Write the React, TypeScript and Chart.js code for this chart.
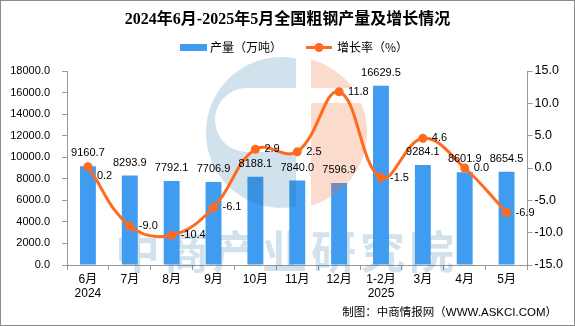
import { useEffect, useRef } from "react";
import { Chart, registerables } from "chart.js";

Chart.register(...registerables);

const TITLE = "2024年6月-2025年5月全国粗钢产量及增长情况";
const SERIES_BAR = "产量（万吨）";
const SERIES_LINE = "增长率（%）";
const SOURCE = "制图：中商情报网（WWW.ASKCI.COM）";
const WATERMARK = "中商产业研究院";

const categories: (string | string[])[] = [
  ["6月", "2024"], "7月", "8月", "9月", "10月", "11月", "12月",
  ["1-2月", "2025"], "3月", "4月", "5月",
];
const output = [9160.7, 8293.9, 7792.1, 7706.9, 8188.1, 7840.0, 7596.9, 16629.5, 9284.1, 8601.9, 8654.5];
const growth = [0.2, -9.0, -10.4, -6.1, 2.9, 2.5, 11.8, -1.5, 4.6, 0.0, -6.9];

const leftMin = 0, leftMax = 18000, leftStep = 2000;
const rightMin = -15, rightMax = 15, rightStep = 5;

const BAR_COLOR = "#3F9CF1";
const LINE_COLOR = "#FF6A1F";
const AXIS_COLOR = "#999999";
const SANS = "'Liberation Sans', 'Noto Sans CJK SC', sans-serif";
const CJK = "'Noto Sans CJK SC', sans-serif";
const TITLE_FONT = "'Liberation Serif', 'Noto Sans CJK SC', serif";

const decorPlugin = {
  id: "decor",
  beforeDatasetsDraw(chart: any) {
    const ctx = chart.ctx;
    ctx.save();
    ctx.fillStyle = "rgba(30,110,160,0.2)";
    ctx.font = `bold 45px ${CJK}`;
    ctx.textBaseline = "middle";
    ctx.textAlign = "left";
    Array.from(WATERMARK).forEach((c, i) => ctx.fillText(c, 115 + i * 49, 252));
    ctx.restore();
  },
  afterDatasetDraw(chart: any, args: any) {
    if (args.index !== 0) return;
    const ctx = chart.ctx;
    // blue part of logo
    ctx.save();
    ctx.beginPath();
    ctx.rect(0, 0, 296, 326);
    ctx.clip();
    ctx.beginPath();
    ctx.arc(281.5, 132.5, 75.5, 0, Math.PI * 2);
    ctx.moveTo(300, 88);
    ctx.lineTo(247, 88);
    ctx.arc(247, 120, 32, -Math.PI / 2, Math.PI / 2, true);
    ctx.lineTo(300, 152);
    ctx.closePath();
    ctx.fillStyle = "rgba(30,110,160,0.2)";
    ctx.fill("evenodd");
    ctx.restore();
    // salmon part of logo
    ctx.save();
    ctx.beginPath();
    ctx.rect(311, 0, 264, 88);
    ctx.rect(311, 103, 264, 223);
    ctx.clip();
    ctx.beginPath();
    ctx.arc(291.5, 132.5, 75.5, 0, Math.PI * 2);
    ctx.fillStyle = "rgba(235,110,50,0.25)";
    ctx.fill();
    ctx.restore();
  },
  afterDraw(chart: any) {
    const ctx = chart.ctx;
    ctx.save();
    // data labels
    ctx.fillStyle = "#000";
    ctx.font = `11px ${SANS}`;
    ctx.textBaseline = "middle";
    ctx.textAlign = "center";
    const barMeta = chart.getDatasetMeta(0);
    barMeta.data.forEach((el: any, i: number) => {
      ctx.fillText(output[i].toFixed(1), el.x, el.y - 13);
    });
    ctx.textAlign = "left";
    const lineMeta = chart.getDatasetMeta(1);
    lineMeta.data.forEach((el: any, i: number) => {
      ctx.fillText(growth[i].toFixed(1), el.x + 9, el.y + (i === 0 ? 9 : 0));
    });

    // title
    ctx.font = `bold 16px ${TITLE_FONT}`;
    ctx.textAlign = "center";
    ctx.fillText(TITLE, 287.5, 20);

    // legend
    ctx.fillStyle = BAR_COLOR;
    ctx.fillRect(180, 44, 27, 7);
    ctx.fillStyle = "#000";
    ctx.font = `12px ${CJK}`;
    ctx.textAlign = "left";
    ctx.fillText(SERIES_BAR, 210, 47.5);
    ctx.strokeStyle = LINE_COLOR;
    ctx.lineWidth = 3;
    ctx.beginPath();
    ctx.moveTo(306, 47.5);
    ctx.lineTo(332, 47.5);
    ctx.stroke();
    ctx.fillStyle = LINE_COLOR;
    ctx.beginPath();
    ctx.arc(319, 47.5, 4.5, 0, Math.PI * 2);
    ctx.fill();
    ctx.fillStyle = "#000";
    ctx.fillText(SERIES_LINE, 337, 47.5);

    // source
    ctx.font = `11.5px ${SANS}`;
    ctx.textAlign = "right";
    ctx.fillText(SOURCE, 557, 313);

    // frame
    ctx.strokeStyle = "#8c8c8c";
    ctx.lineWidth = 1;
    ctx.strokeRect(0.5, 0.5, 574, 325);
    ctx.restore();
  },
};

export default function App() {
  const ref = useRef<HTMLCanvasElement>(null);
  useEffect(() => {
    if (!ref.current) return;
    const chart = new Chart(ref.current, {
      type: "bar",
      data: {
        labels: categories as any,
        datasets: [
          {
            type: "bar",
            label: SERIES_BAR,
            data: output,
            backgroundColor: BAR_COLOR,
            barPercentage: 0.38,
            categoryPercentage: 1,
            yAxisID: "y",
            order: 1,
          },
          {
            type: "line",
            label: SERIES_LINE,
            data: growth,
            borderColor: LINE_COLOR,
            backgroundColor: LINE_COLOR,
            borderWidth: 3,
            tension: 0.4,
            pointRadius: 4.5,
            pointBorderWidth: 0,
            pointBackgroundColor: LINE_COLOR,
            yAxisID: "y1",
            order: 0,
          } as any,
        ],
      },
      options: {
        responsive: false,
        devicePixelRatio: 1,
        animation: false,
        layout: { padding: { top: 71, left: 0, right: 0, bottom: 0 } },
        plugins: {
          legend: { display: false },
          title: { display: false },
          tooltip: { enabled: false },
        },
        scales: {
          x: {
            grid: {
              display: true,
              drawOnChartArea: false,
              drawTicks: true,
              tickLength: 5,
              color: AXIS_COLOR,
              offset: true,
            },
            border: { display: true, color: AXIS_COLOR },
            ticks: {
              color: "#000",
              font: { family: SANS, size: 12, lineHeight: 1.17 },
              padding: 3,
              maxRotation: 0,
              autoSkip: false,
            },
            afterFit: (s: any) => {
              s.height = 61;
            },
          },
          y: {
            position: "left",
            min: leftMin,
            max: leftMax,
            grid: { display: true, drawOnChartArea: false, tickLength: 5, color: AXIS_COLOR },
            border: { display: true, color: AXIS_COLOR },
            ticks: {
              stepSize: leftStep,
              color: "#000",
              font: { family: SANS, size: 11 },
              padding: 12,
              callback: (v: any) => Number(v).toFixed(1),
            },
            afterFit: (s: any) => {
              s.width = 67;
            },
          },
          y1: {
            position: "right",
            min: rightMin,
            max: rightMax,
            grid: { display: true, drawOnChartArea: false, tickLength: 5, color: AXIS_COLOR },
            border: { display: true, color: AXIS_COLOR },
            ticks: {
              stepSize: rightStep,
              color: "#000",
              font: { family: SANS, size: 12.5 },
              padding: 2,
              callback: (v: any) => Number(v).toFixed(1),
            },
            afterFit: (s: any) => {
              s.width = 47.5;
            },
          },
        },
      } as any,
      plugins: [decorPlugin],
    });
    return () => chart.destroy();
  }, []);
  return (
    <div style={{ position: "absolute", left: 0, top: 0, width: 575, height: 326, background: "#fff" }}>
      <canvas ref={ref} width={575} height={326} style={{ display: "block", width: 575, height: 326 }} />
    </div>
  );
}
